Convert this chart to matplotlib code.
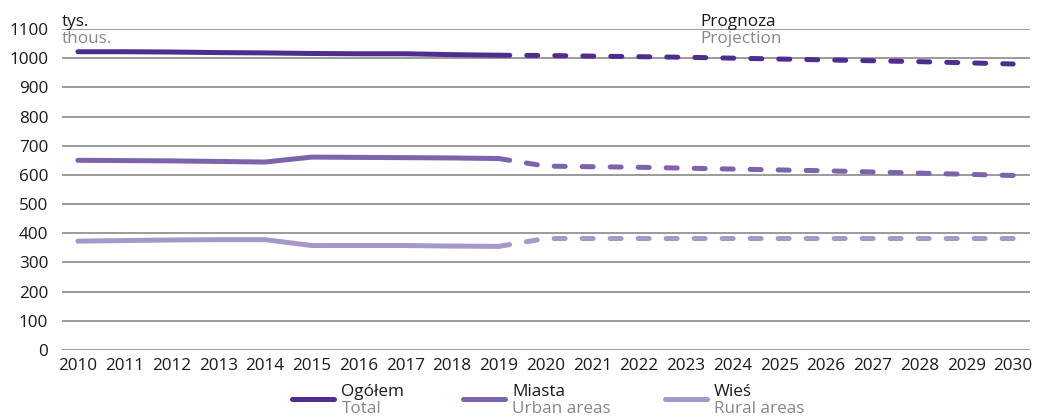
import matplotlib
matplotlib.use("Agg")
import matplotlib.pyplot as plt
from matplotlib.lines import Line2D

plt.rcParams['font.family'] = ['Open Sans', 'DejaVu Sans']

# data (thousands)
years_hist = list(range(2010, 2020))
years_proj = list(range(2019, 2031))

total_hist = [1022, 1022, 1021, 1019, 1018, 1016, 1015, 1015, 1012, 1010]
total_proj = [1010, 1009, 1007, 1005, 1003, 1000, 997, 994, 991, 988, 984, 980]

urban_hist = [650, 649, 648, 646, 644, 661, 660, 659, 658, 656]
urban_proj = [656, 630, 628, 626, 623, 620, 617, 614, 610, 606, 602, 598]

rural_hist = [373, 375, 377, 378, 378, 358, 358, 358, 356, 355]
rural_proj = [355, 382, 382, 382, 382, 382, 382, 382, 382, 382, 382, 382]

labels_pl = ['Ogółem', 'Miasta', 'Wieś']
labels_en = ['Total', 'Urban areas', 'Rural areas']
colors = ['#4f2d8f', '#7c63ac', '#a898c9']

yticks = list(range(0, 1101, 100))
xticks = list(range(2010, 2031))

fs = 12.3

fig = plt.figure(figsize=(10.44, 4.18), dpi=100)
ax = fig.add_axes([0.0594, 0.1627, 0.9272, 0.768])

series = [(total_hist, total_proj), (urban_hist, urban_proj), (rural_hist, rural_proj)]
lw = 3.6
for (h, p), c in zip(series, colors):
    ax.plot(years_hist, h, color=c, lw=lw, solid_capstyle='round', solid_joinstyle='round', zorder=3)
    ax.plot(years_proj, p, color=c, lw=lw, dashes=(2.2, 3.4), dash_capstyle='round', zorder=3)

ax.set_ylim(0, 1100)
ax.set_xlim(2009.66, 2030.36)
ax.set_yticks(yticks)
ax.set_xticks(xticks)
ax.set_xticklabels([str(y) for y in xticks])
ax.grid(axis='y', color='#8a8a8a', lw=1.2)
ax.set_axisbelow(True)
for s in ax.spines.values():
    s.set_visible(False)
ax.tick_params(length=0, labelsize=fs, colors='#1a1a1a')
ax.tick_params(axis='y', pad=10)
ax.tick_params(axis='x', pad=5.5)

# unit and projection labels
fig.text(0.0594, 0.938, 'tys.', fontsize=fs, color='#1a1a1a', va='baseline', ha='left')
fig.text(0.0594, 0.897, 'thous.', fontsize=fs, color='#888888', va='baseline', ha='left')
fig.text(0.671, 0.938, 'Prognoza', fontsize=fs, color='#1a1a1a', va='baseline', ha='left')
fig.text(0.671, 0.897, 'Projection', fontsize=fs, color='#888888', va='baseline', ha='left')

# custom legend
leg_x = [0.280, 0.4435, 0.637]
for x0, c, lp, le in zip(leg_x, colors, labels_pl, labels_en):
    fig.add_artist(Line2D([x0, x0 + 0.040], [0.0455, 0.0455], transform=fig.transFigure,
                          color=c, lw=lw, solid_capstyle='round'))
    fig.text(x0 + 0.047, 0.0526, lp, fontsize=fs, color='#1a1a1a', va='baseline', ha='left')
    fig.text(x0 + 0.047, 0.011, le, fontsize=fs, color='#888888', va='baseline', ha='left')

fig.savefig('out.png', dpi=100)
